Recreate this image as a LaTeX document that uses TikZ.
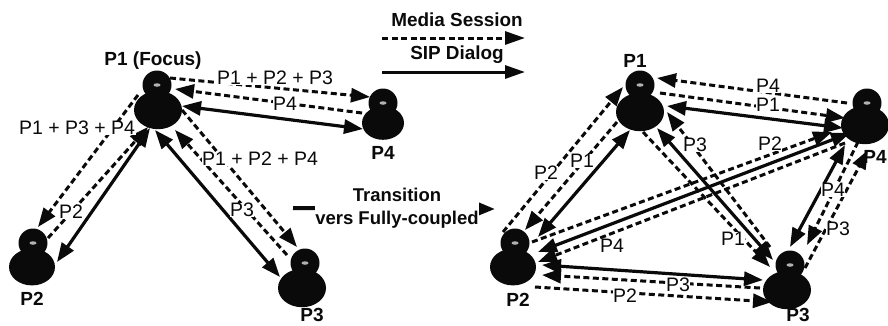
\documentclass[tikz,border=0pt]{standalone}
\usepackage{fontspec}
\setmainfont{Liberation Sans}
\usetikzlibrary{arrows.meta,shapes.geometric}
\definecolor{ink}{HTML}{0A0A0A}
\tikzset{
  x=1pt,y=-1pt,
  body/.style={draw=none,fill=ink,ellipse,minimum width=#1*2pt,inner sep=0pt},
  head/.style={draw=none,fill=ink,circle,minimum size=29pt,inner sep=0pt},
  face/.style={fill=white!70!black,ellipse,minimum width=7pt,minimum height=3.5pt,inner sep=0pt},
  who/.style={font=\fontsize{19}{19}\selectfont\bfseries,text=ink,inner sep=0pt},
  lab/.style={font=\fontsize{19.5}{19.5}\selectfont,text=ink,fill=white,inner sep=0.5pt},
  leg/.style={font=\fontsize{18.9}{18.9}\selectfont\bfseries,text=ink,inner sep=0pt},
  tip/.style={-{Triangle[length=19pt,width=14pt]}},
  tips/.style={{Triangle[length=19pt,width=14pt]}-{Triangle[length=19pt,width=14pt]}},
  sol/.style={draw=ink,line width=3.2pt,tips},
  dsh/.style={draw=ink,line width=3pt,dash pattern=on 6pt off 3.5pt,tip}
}
\newcommand{\pers}[6]{% name, x, y, head x, head y, body half width
  \node[body=#6,minimum height=#6*1.6pt] (#1) at (#2,#3) {};
  \node[head] (#1h) at (#4,#5) {};
  \node[face] (#1f) at (#4,#5) {};
}
\begin{document}
\begin{tikzpicture}
\useasboundingbox (0,0) rectangle (888,325);
\clip (0,0) rectangle (888,325);
\fill[white] (0,0) rectangle (888,325);
% persons left
\pers{La}{158}{110}{157}{85}{24}
\pers{Lb}{32}{267}{33}{243}{23}
\pers{Lc}{302}{288}{305}{263}{24}
\pers{Ld}{383}{123}{383}{103}{21}
% persons right
\pers{Ra}{640}{112}{640}{85}{24}
\pers{Rb}{513}{267}{515}{243}{23}
\pers{Rc}{787}{290}{790}{265}{24}
\pers{Rd}{865}{125}{867}{103}{24}
% left connectors
\draw[dsh] ([shift={(12,-32)}]La.center) -- ([shift={(-13,-26)}]Ld.center);
\draw[dsh] ([shift={(-21,-10)}]Ld.center) -- ([shift={(17,-21)}]La.center);
\draw[sol] ([shift={(24,-4)}]La.center) -- ([shift={(-20,6)}]Ld.center);
\draw[dsh] ([shift={(-20,-15)}]La.center) -- ([shift={(6,-40)}]Lb.center);
\draw[dsh] ([shift={(16,-29)}]Lb.center) -- ([shift={(-10,17)}]La.center);
\draw[sol] ([shift={(-8,18)}]La.center) -- ([shift={(25,-5)}]Lb.center);
\draw[sol] ([shift={(-3,20)}]La.center) -- ([shift={(-22,-11)}]Lc.center);
\draw[dsh] ([shift={(-15,-33)}]Lc.center) -- ([shift={(17,20)}]La.center);
\draw[dsh] ([shift={(24,0)}]La.center) -- ([shift={(-5,-41)}]Lc.center);
% right connectors
\draw[dsh] ([shift={(-18,-22)}]Rd.center) -- ([shift={(17,-34)}]Ra.center);
\draw[dsh] ([shift={(20,-19)}]Ra.center) -- ([shift={(-20,-7)}]Rd.center);
\draw[sol] ([shift={(27,-6)}]Ra.center) -- ([shift={(-22,3)}]Rd.center);
\draw[dsh] ([shift={(-10,-35)}]Rb.center) -- ([shift={(-17,-25)}]Ra.center);
\draw[dsh] ([shift={(-23,10)}]Ra.center) -- ([shift={(12,-37)}]Rb.center);
\draw[sol] ([shift={(-10,18)}]Ra.center) -- ([shift={(25,-30)}]Rb.center);
\draw[sol] ([shift={(17,16)}]Ra.center) -- ([shift={(-14,-30)}]Rc.center);
\draw[dsh] ([shift={(-17,-43)}]Rc.center) -- ([shift={(27,0)}]Ra.center);
\draw[dsh] ([shift={(3,20)}]Ra.center) -- ([shift={(-17,-23)}]Rc.center);
\draw[sol] ([shift={(25,-15)}]Rb.center) -- ([shift={(-15,8)}]Rd.center);
\draw[dsh] ([shift={(19,-25)}]Rb.center) -- ([shift={(-33,7)}]Rd.center);
\draw[dsh] ([shift={(-20,18)}]Rd.center) -- ([shift={(25,-5)}]Rb.center);
\draw[sol] ([shift={(29,-2)}]Rb.center) -- ([shift={(-24,-10)}]Rc.center);
\draw[dsh] ([shift={(-27,-2)}]Rc.center) -- ([shift={(29,8)}]Rb.center);
\draw[dsh] ([shift={(22,20)}]Rb.center) -- ([shift={(-15,12)}]Rc.center);
\draw[sol] ([shift={(-20,20)}]Rd.center) -- ([shift={(3,-43)}]Rc.center);
\draw[dsh] ([shift={(-7,17)}]Rd.center) -- ([shift={(20,-45)}]Rc.center);
\draw[dsh] ([shift={(18,-22)}]Rc.center) -- ([shift={(3,25)}]Rd.center);
% legend
\coordinate (m1) at (382,38); \coordinate (m2) at (525,38);
\coordinate (s1) at (382,72); \coordinate (s2) at (525,72);
\coordinate (t1) at (293,208); \coordinate (t2) at (495,209);
\draw[dsh,-{Triangle[length=20pt,width=13pt]}] (m1) -- (m2);
\draw[draw=ink,line width=3pt,-{Triangle[length=20pt,width=13pt]}] (s1) -- (s2);
\draw[draw=ink,line width=4pt,-{Triangle[length=20pt,width=15pt]}] (t1) -- (t2);
\node[leg] (tm) at (457,20) {Media Session};
\node[leg] (ts) at (457,55) {SIP Dialog};
\node[font=\fontsize{18.5}{23}\selectfont\bfseries,text=ink,fill=white,inner sep=0pt,align=center] (tt) at (397,208) {Transition\\vers Fully-coupled};
% person names
\node[who] (n1) at (153,61) {P1 (Focus)};
\node[who] (n2) at (32,299) {P2};
\node[who] (n3) at (312,315) {P3};
\node[who] (n4) at (383,153) {P4};
\node[who] (r1) at (635,61) {P1};
\node[who] (r2) at (518,300) {P2};
\node[who] (r3) at (798,315) {P3};
\node[who] (r4) at (875,157) {P4};
% left labels
\node[lab] (a1) at (275,78) {P1 + P2 + P3};
\node[lab] (a2) at (285,104) {P4};
\node[lab] (a3) at (77,128) {P1 + P3 + P4};
\node[lab] (a4) at (71,212) {P2};
\node[lab] (a5) at (260,159) {P1 + P2 + P4};
\node[lab] (a6) at (242,210) {P3};
% right labels
\node[lab] (b1) at (768,86) {P4};
\node[lab] (b2) at (768,105) {P1};
\node[lab] (b3) at (546,173) {P2};
\node[lab] (b4) at (582,161) {P1};
\node[lab] (b5) at (695,145) {P3};
\node[lab] (b6) at (733,239) {P1};
\node[lab] (b7) at (770,144) {P2};
\node[lab] (b8) at (612,246) {P4};
\node[lab] (b9) at (678,285) {P3};
\node[lab] (b10) at (625,296) {P2};
\node[lab] (b11) at (833,190) {P4};
\node[lab] (b12) at (838,229) {P3};
\end{tikzpicture}
\end{document}
